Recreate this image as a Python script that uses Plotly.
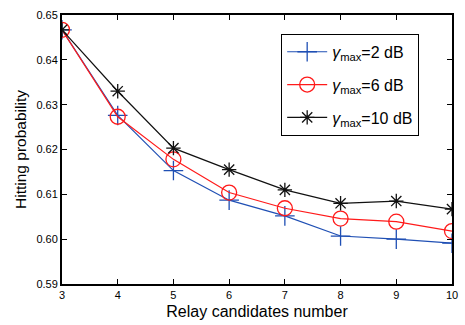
import plotly.graph_objects as go

relays = [3, 4, 5, 6, 7, 8, 9, 10]
p_2db = [0.6467, 0.6276, 0.6153, 0.6087, 0.6052, 0.6007, 0.6000, 0.5991]
p_6db = [0.6467, 0.6273, 0.6178, 0.6104, 0.6069, 0.6046, 0.6039, 0.6018]
p_10db = [0.6467, 0.6330, 0.6203, 0.6155, 0.6110, 0.6080, 0.6085, 0.6067]
names = ["<i>γ</i><sub>max</sub>=2 dB", "<i>γ</i><sub>max</sub>=6 dB", "<i>γ</i><sub>max</sub>=10 dB"]

fig = go.Figure()
fig.add_trace(go.Scatter(x=relays, y=p_2db, name=names[0], legendgroup="a", mode="lines+markers",
                         line=dict(color="#1f4fb4", width=1.2),
                         marker=dict(symbol="cross-thin-open", size=14, line=dict(color="#1f4fb4", width=1.3))))
fig.add_trace(go.Scatter(x=relays, y=p_6db, name=names[1], legendgroup="b", mode="lines+markers",
                         line=dict(color="#ff1a1a", width=1.2),
                         marker=dict(symbol="circle-open", size=15, color="#ff1a1a", line=dict(color="#ff1a1a", width=1.3))))
fig.add_trace(go.Scatter(x=relays, y=p_10db, name=names[2], legendgroup="c", mode="lines+markers",
                         line=dict(color="#111111", width=1.2),
                         marker=dict(symbol="asterisk-open", size=12, line=dict(color="#111111", width=1.3))))

fig.update_layout(
    width=465, height=325,
    margin=dict(l=62, r=7, t=15, b=40),
    plot_bgcolor="white", paper_bgcolor="white",
    font=dict(family="Liberation Sans, Arial, sans-serif", color="black"),
    legend=dict(x=0.562, y=0.93, xanchor="left", yanchor="top",
                bordercolor="black", borderwidth=1, bgcolor="white",
                font=dict(size=16), tracegroupgap=9, itemwidth=40),
    showlegend=True,
)
fig.update_xaxes(range=[3, 10], tickmode="array", tickvals=relays,
                 showline=True, linecolor="black", linewidth=2, mirror="ticks",
                 ticks="inside", ticklen=5, tickcolor="black", showgrid=False, zeroline=False,
                 tickfont=dict(size=11),
                 title=dict(text="Relay candidates number", font=dict(size=16), standoff=6))
fig.update_yaxes(range=[0.59, 0.65], tickvals=[0.59, 0.60, 0.61, 0.62, 0.63, 0.64, 0.65],
                 tickformat=".2f",
                 showline=True, linecolor="black", linewidth=2, mirror="ticks",
                 ticks="inside", ticklen=5, tickcolor="black", showgrid=False, zeroline=False,
                 tickfont=dict(size=11),
                 title=dict(text="Hitting probability", font=dict(size=15.5), standoff=6))

fig.write_html("out.html", config={"displayModeBar": False},
               post_script="document.body.style.margin='0';")
